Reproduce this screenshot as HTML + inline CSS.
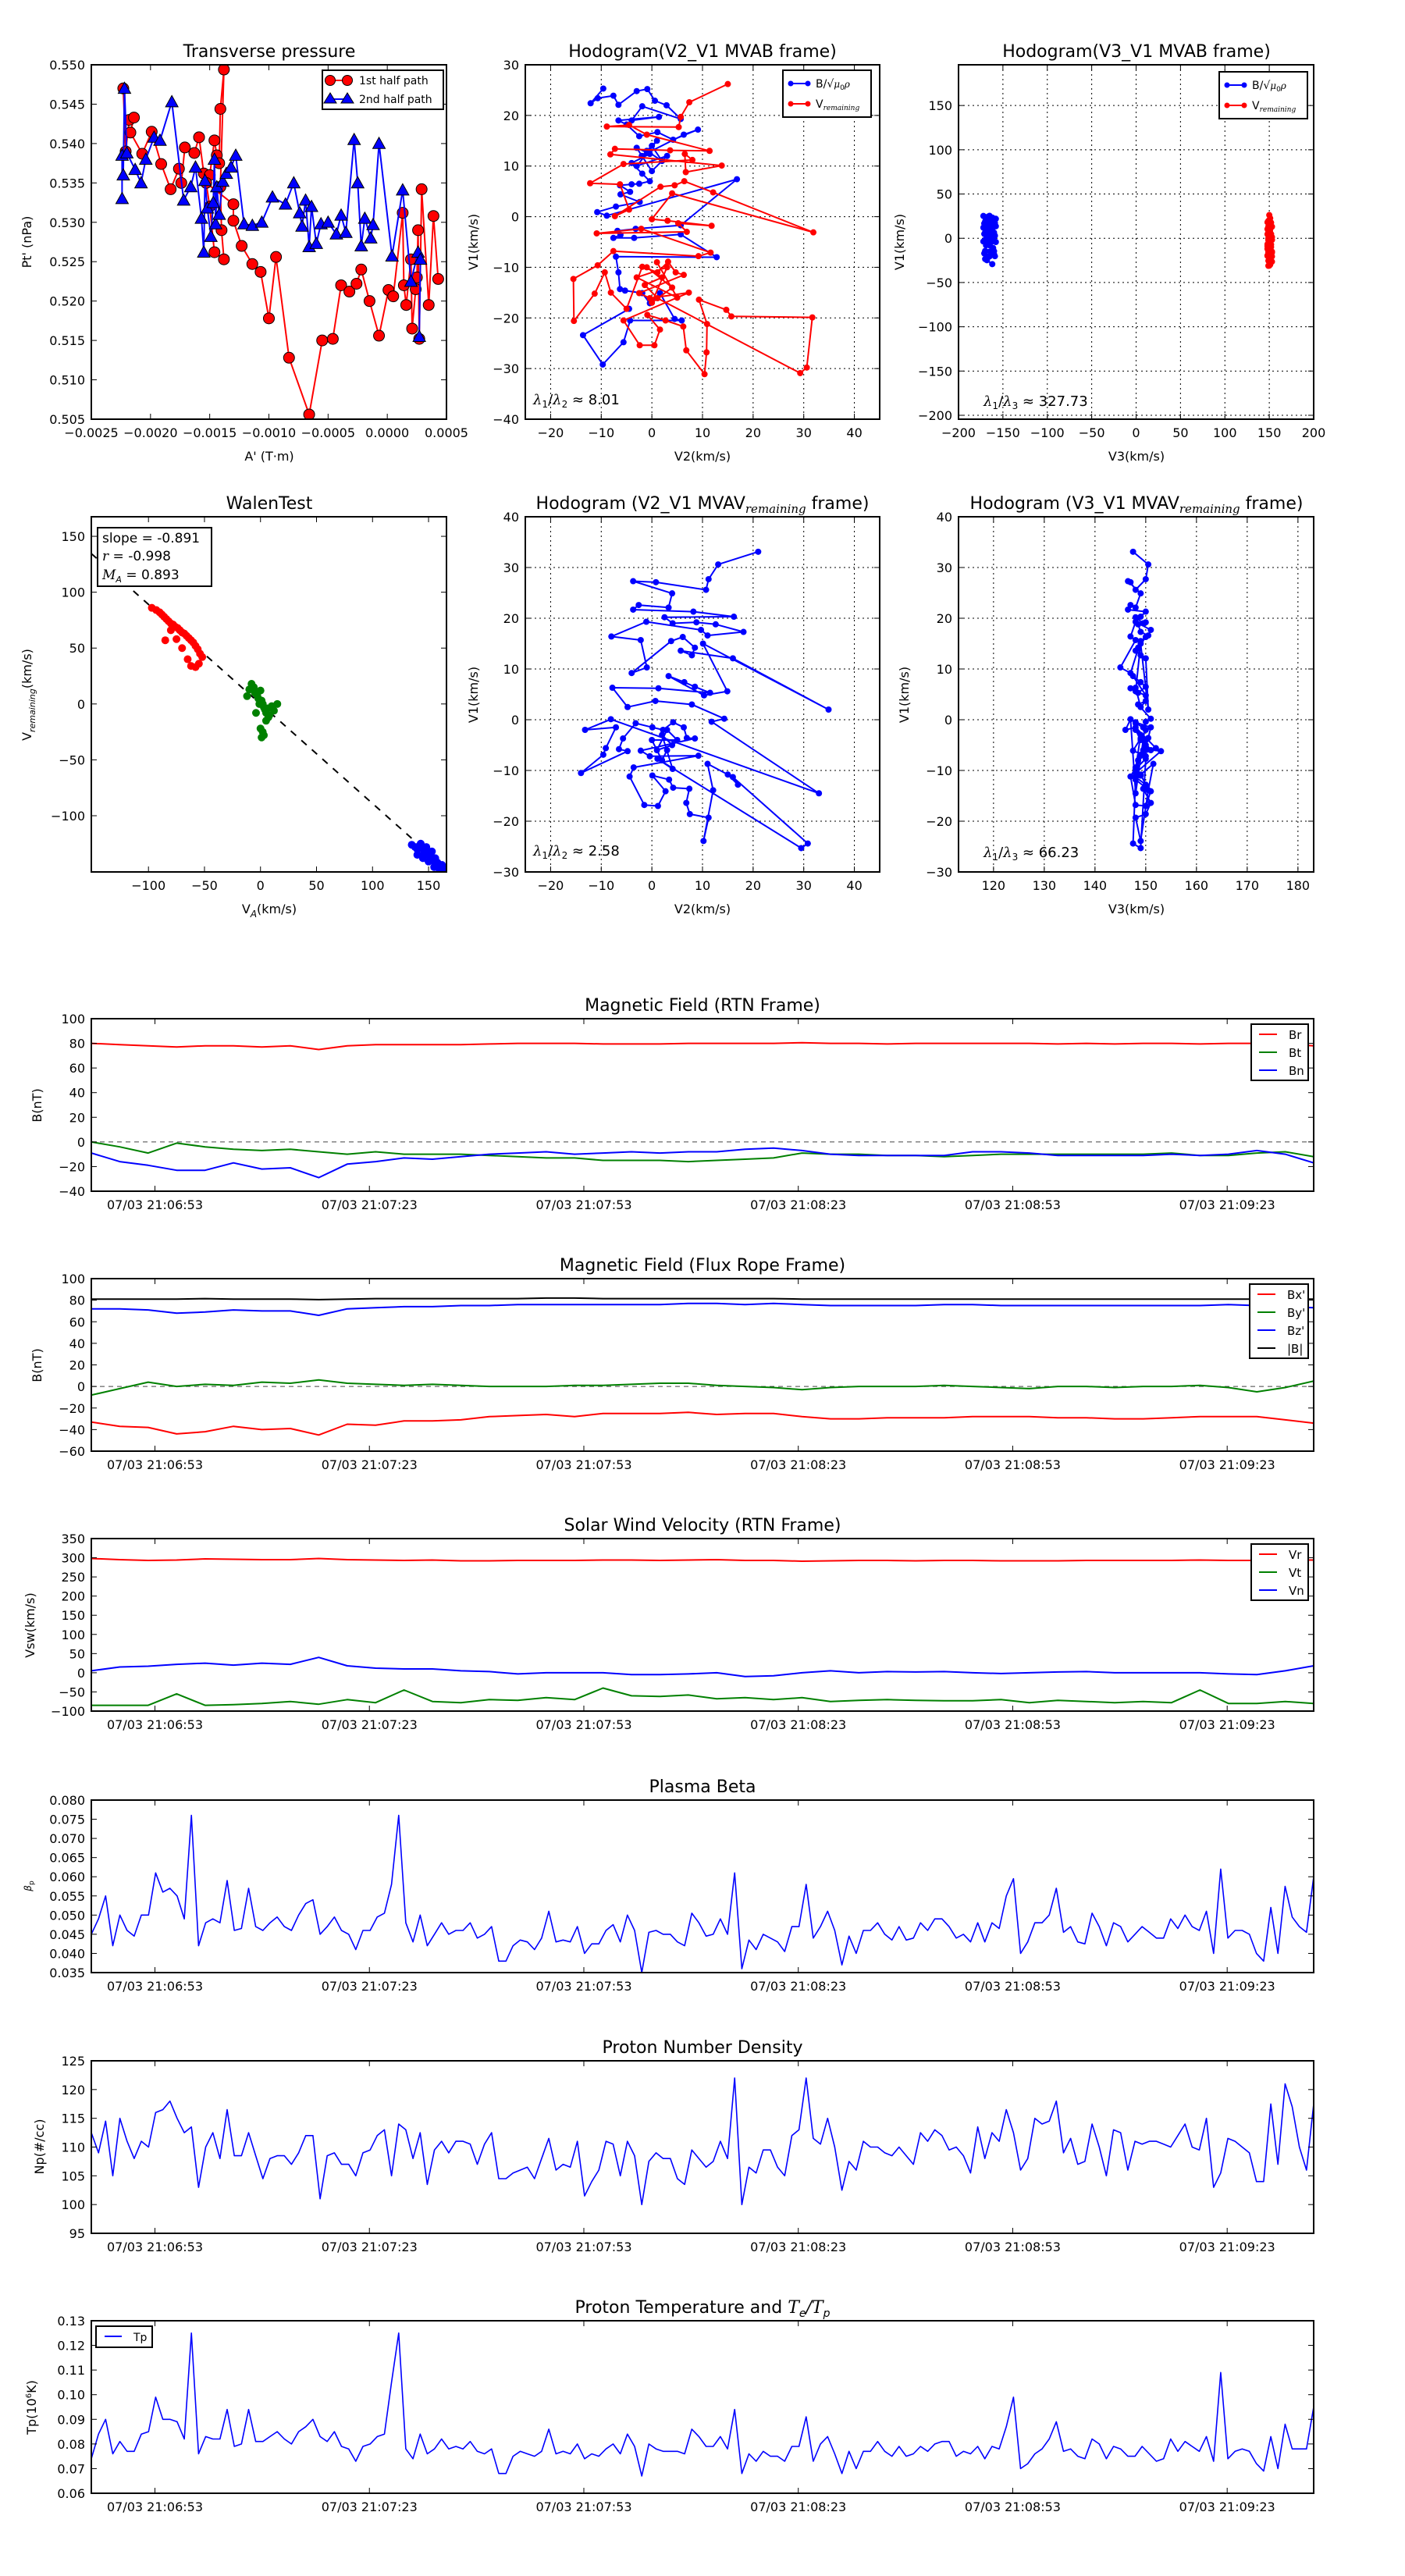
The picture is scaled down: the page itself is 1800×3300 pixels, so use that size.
<!DOCTYPE html>
<html><head><meta charset="utf-8"><title>Flux rope analysis</title>
<style>
html,body{margin:0;padding:0;background:#fff;}
svg{display:block;font-family:"DejaVu Sans","Liberation Sans",sans-serif;}
.t{font-size:22px;fill:#000;text-anchor:middle;}
.al{font-size:16px;fill:#000;text-anchor:middle;}
.lg{font-size:14px;fill:#000;}
</style></head>
<body>
<svg id="chart" width="1800" height="3300" viewBox="0 0 1800 3300" xmlns="http://www.w3.org/2000/svg">
<rect x="0" y="0" width="1800" height="3300" fill="#fff"/>
<text class="t" x="345" y="73">Transverse pressure</text>
<text class="t" x="900" y="73">Hodogram(V2_V1 MVAB frame)</text>
<text class="t" x="1456" y="73">Hodogram(V3_V1 MVAB frame)</text>
<text class="t" x="345" y="652">WalenTest</text>
<text class="t" x="900" y="652">Hodogram (V2_V1 MVAV<tspan font-style="italic" font-family="DejaVu Serif" font-size="15" dy="5">remaining</tspan><tspan dy="-5"> frame)</tspan></text>
<text class="t" x="1456" y="652">Hodogram (V3_V1 MVAV<tspan font-style="italic" font-family="DejaVu Serif" font-size="15" dy="5">remaining</tspan><tspan dy="-5"> frame)</tspan></text>
<text class="t" x="900" y="1295">Magnetic Field (RTN Frame)</text>
<text class="t" x="900" y="1628">Magnetic Field (Flux Rope Frame)</text>
<text class="t" x="900" y="1961">Solar Wind Velocity (RTN Frame)</text>
<text class="t" x="900" y="2296">Plasma Beta</text>
<text class="t" x="900" y="2630">Proton Number Density</text>
<text class="t" x="900" y="2963">Proton Temperature and <tspan font-style="italic" font-family="DejaVu Serif">T</tspan><tspan font-style="italic" font-size="14" dy="5">e</tspan><tspan dy="-5" font-style="italic" font-family="DejaVu Serif">/T</tspan><tspan font-style="italic" font-size="14" dy="5">p</tspan></text>
<text class="al" x="345" y="590">A' (T·m)</text>
<text class="al" x="900" y="590">V2(km/s)</text>
<text class="al" x="1456" y="590">V3(km/s)</text>
<text class="al" x="345" y="1170">V<tspan font-style="italic" font-size="12" dy="5">A</tspan><tspan dy="-5">(km/s)</tspan></text>
<text class="al" x="900" y="1170">V2(km/s)</text>
<text class="al" x="1456" y="1170">V3(km/s)</text>
<text class="al" transform="translate(40,310) rotate(-90)">Pt' (nPa)</text>
<text class="al" transform="translate(612,310) rotate(-90)">V1(km/s)</text>
<text class="al" transform="translate(1158,310) rotate(-90)">V1(km/s)</text>
<text class="al" transform="translate(40,890) rotate(-90)">V<tspan font-style="italic" font-size="11" dy="5">remaining</tspan><tspan dy="-5">(km/s)</tspan></text>
<text class="al" transform="translate(612,890) rotate(-90)">V1(km/s)</text>
<text class="al" transform="translate(1164,890) rotate(-90)">V1(km/s)</text>
<text class="al" transform="translate(53,1416) rotate(-90)">B(nT)</text>
<text class="al" transform="translate(53,1749) rotate(-90)">B(nT)</text>
<text class="al" transform="translate(44,2082) rotate(-90)">Vsw(km/s)</text>
<text class="al" transform="translate(40,2416) rotate(-90)" style="font-size:12px"><tspan font-style="italic">β</tspan><tspan font-size="9" dy="3">p</tspan></text>
<text class="al" transform="translate(56,2750) rotate(-90)">Np(#/cc)</text>
<text class="al" transform="translate(46,3084) rotate(-90)">Tp(10<tspan font-size="10" dy="-6">6</tspan><tspan dy="6">K)</tspan></text>
</svg>
<script>
const redA = [-2.23,-2.21,-2.18,-2.14,-2.17,-2.07,-1.99,-1.91,-1.83,-1.76,-1.74,-1.71,-1.63,-1.59,-1.55,-1.50,-1.46,-1.44,-1.42,-1.41,-1.38,-1.41,-1.40,-1.38,-1.46,-1.50,-1.53,-1.30,-1.30,-1.23,-1.14,-1.07,-1.00,-0.94,-0.83,-0.66,-0.55,-0.46,-0.39,-0.32,-0.26,-0.22,-0.15,-0.07,0.01,0.05,0.13,0.14,0.16,0.20,0.21,0.24,0.25,0.26,0.27,0.29,0.35,0.39,0.43];
const redP = [.547,.539,.543,.5433,.5414,.5387,.5415,.5374,.5342,.5368,.5350,.5395,.5388,.5408,.5362,.5360,.5404,.5385,.5375,.5444,.5494,.5345,.5290,.5253,.5262,.5320,.5350,.5323,.5302,.5270,.5247,.5237,.5178,.5256,.5128,.5056,.5150,.5152,.5220,.5212,.5222,.5240,.5200,.5156,.5214,.5206,.5312,.5220,.5195,.5253,.5165,.5215,.5230,.5290,.5152,.5342,.5195,.5308,.5228];
const blueA = [-2.24,-2.24,-2.23,-2.22,-2.20,-2.13,-2.08,-2.04,-1.97,-1.92,-1.82,-1.72,-1.66,-1.62,-1.57,-1.55,-1.54,-1.52,-1.49,-1.47,-1.46,-1.45,-1.44,-1.42,-1.39,-1.36,-1.32,-1.28,-1.21,-1.14,-1.06,-0.97,-0.86,-0.79,-0.74,-0.72,-0.69,-0.66,-0.64,-0.60,-0.56,-0.50,-0.43,-0.39,-0.35,-0.28,-0.25,-0.22,-0.19,-0.14,-0.12,-0.07,0.04,0.13,0.20,0.26,0.28,0.27];
const blueP = [.5330,.5385,.5360,.5470,.5388,.5367,.5350,.5380,.5408,.5404,.5453,.5328,.5345,.5370,.5305,.5262,.5353,.5318,.5282,.5325,.5380,.5298,.5345,.5310,.5352,.5362,.5370,.5385,.5298,.5296,.5300,.5332,.5323,.5350,.5312,.5295,.5328,.5269,.5320,.5273,.5298,.5300,.5285,.5309,.5287,.5405,.5350,.5270,.5305,.5280,.5297,.5400,.5257,.5341,.5225,.5262,.5253,.5155];

const b1V2 = [-9.6,-12.1,-10.7,-7.6,-6.6,-3,-0.9,0.6,2.9,5.7,-1.9,-4,1.4,-6.6,-5,-2.5,1.1,4.2,9.1,6.3,-2,0,2,-1,1,-3,3,0,-3,-0.4,-4,-1.9,-0.4,-2.5,-4,-6.3,-4.3,-6.2,-2.4,-7.1,-10.8,-8.9,16.8,5.7,-3.2,-6.8,-6.2,-7.6,-3.5,5.7,12.8,-7.1,-6.6,-6.3,-5.3,-1.9,-0.4,1.6,4.5,5.9,-4.3,-5.6,-9.7,-13.6,-4.5];
const b1V1 = [25.3,22.4,23.4,23.9,22.1,24.8,25.2,22.9,22,19.3,21.8,19,19.7,19,18.2,15.9,16.7,15.2,17.2,16.2,12,14,11,13,15,10,12,9,13.6,12.4,10.6,8.5,7,6.5,6.4,6.2,4.9,4.4,2.9,2,0.9,0.2,7.4,-1.7,-2.4,-2.8,-3.6,-4.2,-4.2,-3.5,-8,-7.9,-11,-14.3,-14.6,-15.1,-17.1,-15.1,-20.2,-20.5,-20.5,-24.8,-29.2,-23.4,-18.2];
const b1V3 = [-165,-168,-162,-170,-160,-166,-172,-163,-158,-167,-165,-169,-161,-170,-160,-164,-171,-163,-159,-166,-165,-168,-162,-170,-160,-166,-172,-163,-158,-167,-165,-169,-161,-170,-160,-164,-171,-163,-159,-166,-165,-168,-162,-170,-160,-166,-172,-163,-158,-167,-165,-169,-161,-170,-160,-164,-171,-163,-159,-166,-165,-168,-162,-170,-160];
const r1V2 = [15,7.4,5.7,5.3,-8.9,-4.5,-1,11.4,3.6,-7.3,-8.2,13.8,6.7,6.5,8,-5.6,-12.2,-6.3,-4.5,-7.3,1.7,4.5,6.4,12.1,31.9,4,0,3.1,11.8,5.2,6.9,-10.9,-2.1,11.6,9.2,-7.6,-10.7,-15.5,-15.4,-11.3,-9.3,-8.1,-5,-1.9,1.1,3.2,4.7,6.3,-2.5,-0.4,7.3,-5.6,-2.4,0.5,1.6,-0.9,2.7,6.2,6.8,10.4,10.8,10.9,9.3,14.7,15.7,31.7,30.6,29.3,1.1,-1.4,2,-1,4,0,3,-3,5,1];
const r1V1 = [26.2,22.6,19.7,17.7,17.8,18.1,16.2,13,13.1,13.4,12.3,10.1,8.8,12.4,11.2,10.4,6.6,6.4,1.4,0.1,5.9,6.2,7,4.8,-3.1,4.6,-0.5,-0.8,-1.8,-1.3,-3,-3.3,-2.4,-7.1,-7.8,-6.8,-9.6,-12.3,-20.6,-15.2,-11,-15,-18.2,-9.9,-11,-8.9,-11,-11.5,-15.1,-16.1,-15,-20.5,-25.4,-25.4,-22.3,-19.4,-20.5,-21.7,-26.4,-31.1,-26.8,-21.2,-16.4,-18.4,-19.7,-19.9,-29.8,-30.9,-16.1,-13.5,-12,-10,-14,-17,-10,-12,-16,-9];
const r1V3 = [150,151,149,152,150,148,151,150,153,149,150,151,149,152,150,148,151,150,153,149,150,151,149,152,150,148,151,150,153,149,150,151,149,152,150,148,151,150,153,149,150,151,149,152,150,148,151,150,153,149,150,151,149,152,150,148,151,150,153,149,150,151,149,152,150,148,151,150,153,149,150,151,149,152,150,148,151,150];

const walenRedVA = [-97,-93,-90,-88,-86,-84,-82,-80,-78,-76,-74,-72,-70,-68,-66,-64,-62,-60,-58,-56,-54,-52,-85,-75,-65,-58,-55,-62,-70,-80];
const walenRedV = [86,84,82,80,78,76,74,72,71,69,68,66,64,63,61,59,57,55,52,49,45,42,57,58,40,33,36,34,50,66];
const walenGreenVA = [-10,-8,-6,-5,-3,-2,0,1,2,3,4,5,6,8,10,12,15,-12,-4,0,2,1,3,-1,5,7];
const walenGreenV = [13,18,15,10,8,5,12,3,0,-3,-5,-8,-4,-10,-2,-6,0,7,-8,-22,-25,-30,-28,0,-15,-12];
const walenBlueVA = [135,138,140,142,144,146,148,150,152,154,156,158,160,162,164,166,140,145,150,155,160,165,143,148,153];
const walenBlueV = [-126,-128,-130,-127,-129,-133,-131,-135,-137,-140,-138,-142,-145,-144,-147,-150,-135,-138,-141,-146,-149,-150,-125,-128,-132];
const walenSlope = -0.891;

const m2V2 = [21,13.1,11.2,10.7,0.8,-3.7,4,3.3,-2.6,-3.7,8.2,16.2,2.5,4.1,8.8,12.6,18.1,11,9.7,-1.1,-8,-2.2,-1,-4,3.8,6.1,8.5,7.9,5.7,16,34.9,10.1,14.9,10.3,3.3,6.4,8.5,11.5,1.3,-7.8,-4.8,0.7,7.9,14.3,11.8,33,-8.1,-13.2,-7.1,-9.1,-9.6,-14,-4.8,-6.5,-5.7,-3.2,0.1,2.2,4.2,6.3,6.9,8.5,-2.2,-0.4,9.2,-3.6,-4.4,-1.5,1.2,2.7,0.1,3.4,4.2,7.4,6.8,7.5,11.2,10.2,12.1,11,15,17,16,30.8,29.5,1.1,4.1,2,4,1,3,5,0,2,3];
const m2V1 = [33.1,30.6,27.7,25.6,27.1,27.3,24.9,22.1,22.6,21.7,21.3,20.3,20.2,19,19.2,18.8,17.3,16.6,17.7,19.3,16.4,15.7,10.3,9.2,15.5,16.3,14.2,12.7,13.6,12.1,2,15,5.6,4.8,8.6,7.4,6.5,5.3,6.2,6.3,2.5,3.7,3.0,0.2,-0.4,-14.5,0.1,-2,-1.5,-5.6,-6.9,-10.5,-6.2,-5.8,-3.7,-0.7,-1.5,-2,-0.5,-1.5,-3.6,-3.7,-6.1,-7.2,-7.1,-9.4,-11.2,-16.8,-17,-14.1,-11,-11.8,-13.4,-13.6,-16.4,-18.6,-19.3,-23.9,-13.9,-8.7,-10.8,-12.8,-11.3,-24.4,-25.3,-7.7,-9.7,-3,-5,-6,-2,-4,-4,-8,-6];
const m2V3 = [147.5,150.5,150,148,147,146.5,149,148,147,146.5,150,149,148,149.5,150,148.5,149,150.5,151,148,147,148,145,147,149,150,148.5,149,148,150,150.5,149,148,150,147.5,149,150,148.5,147,148,149,150,148.5,151,150,148,147,146,148,152,149,148,153,150,149,148,149.5,150,148,151,150.5,149,147.5,150,149,148,147,148,150,151,149,148,150,149.5,151,150,148,149,150.5,151.5,149,150,148,147.5,149,150,148,149,150,151,148,149,150,148.5,149.5];

const timeTickSec = [8.9,38.9,68.9,98.9,128.9,158.9];
const timeTickLabels = ["07/03 21:06:53","07/03 21:07:23","07/03 21:07:53","07/03 21:08:23","07/03 21:08:53","07/03 21:09:23"];
const brR = [80,79,78,77,78,78,77,78,75,78,79,79,79,79,79.5,80,80,80,79.5,79.5,79.5,80,80,80,80,80.5,80,80,79.5,80,80,80,80,80,79.5,80,79.5,80,80,79.5,80,80,79.5,78];
const btR = [0,-4,-9,-1,-4,-6,-7,-6,-8,-10,-8,-10,-10,-10,-11,-12,-13,-13,-15,-15,-15,-16,-15,-14,-13,-9,-10,-10,-11,-11,-12,-11,-10,-10,-10,-10,-10,-10,-9,-11,-11,-9,-8,-12];
const bnR = [-9,-16,-19,-23,-23,-17,-22,-21,-29,-18,-16,-13,-14,-12,-10,-9,-8,-10,-9,-8,-9,-8,-8,-6,-5,-7,-10,-11,-11,-11,-11,-8,-8,-9,-11,-11,-11,-11,-10,-11,-10,-7,-10,-17];
const bxF = [-33,-37,-38,-44,-42,-37,-40,-39,-45,-35,-36,-32,-32,-31,-28,-27,-26,-28,-25,-25,-25,-24,-26,-25,-25,-28,-30,-30,-29,-29,-29,-28,-28,-28,-29,-29,-30,-30,-29,-28,-28,-28,-31,-34];
const byF = [-8,-2,4,0,2,1,4,3,6,3,2,1,2,1,0,0,0,1,1,2,3,3,1,0,-1,-3,-1,0,0,0,1,0,-1,-2,0,0,-1,0,0,1,-1,-5,-1,5];
const bzF = [72,72,71,68,69,71,70,70,66,72,73,74,74,75,75,76,76,76,76,76,76,77,77,76,77,76,75,75,75,75,76,76,75,75,75,75,75,75,75,75,76,75,74,73];
const bmF = [81,81,81,81,81.5,81,81,81,80.5,81,81.5,81.5,81.5,81.5,81.5,81.5,82,82,81.5,81.5,81.5,81.5,81.5,81.5,81.5,81,81,81,81,81,81,81,81,81,81,81,81,81,81,81,81,81,81,81];
const vrR = [298,295,293,294,297,296,295,295,298,295,294,293,294,292,292,293,293,293,294,294,293,294,295,293,293,291,292,293,293,292,293,293,292,292,292,293,293,293,293,294,293,293,294,294];
const vtR = [-85,-85,-85,-55,-85,-83,-80,-75,-82,-70,-78,-45,-75,-78,-70,-72,-65,-70,-40,-60,-62,-58,-68,-65,-70,-65,-75,-72,-70,-72,-73,-73,-70,-78,-72,-75,-78,-75,-78,-45,-80,-80,-75,-80];
const vnR = [5,15,17,22,25,20,25,22,40,18,12,10,10,5,3,-3,0,0,0,-5,-5,-3,0,-10,-8,0,5,0,3,2,3,0,-2,0,2,3,0,0,0,0,-3,-5,5,18];
const beta = [0.045,0.049,0.055,0.042,0.050,0.046,0.0445,0.050,0.050,0.061,0.056,0.057,0.055,0.049,0.076,0.042,0.048,0.049,0.048,0.059,0.046,0.0465,0.057,0.047,0.046,0.048,0.0495,0.047,0.046,0.050,0.053,0.054,0.045,0.047,0.0495,0.046,0.045,0.041,0.046,0.046,0.0495,0.0505,0.058,0.076,0.048,0.043,0.050,0.042,0.045,0.048,0.045,0.046,0.046,0.048,0.044,0.045,0.047,0.038,0.038,0.042,0.0435,0.043,0.041,0.044,0.051,0.043,0.0435,0.043,0.047,0.040,0.0425,0.0425,0.046,0.0475,0.043,0.050,0.046,0.035,0.0455,0.046,0.045,0.045,0.043,0.042,0.0505,0.048,0.0445,0.045,0.049,0.045,0.061,0.036,0.0435,0.041,0.045,0.044,0.043,0.0405,0.047,0.047,0.058,0.044,0.047,0.051,0.046,0.037,0.0445,0.040,0.046,0.046,0.048,0.045,0.0435,0.047,0.0435,0.044,0.048,0.046,0.049,0.049,0.047,0.044,0.045,0.043,0.048,0.043,0.048,0.0465,0.055,0.0595,0.040,0.043,0.048,0.048,0.050,0.057,0.0455,0.047,0.043,0.0425,0.0505,0.047,0.042,0.048,0.047,0.043,0.045,0.047,0.0455,0.044,0.044,0.049,0.0465,0.050,0.047,0.046,0.051,0.040,0.062,0.044,0.046,0.046,0.045,0.040,0.038,0.052,0.040,0.0575,0.0495,0.047,0.0455,0.060];
const npDen = [112.5,109,114.5,105,115,111,108,111,110,116,116.5,118,115,112.5,113.5,103,110,112.5,108,116.5,108.5,108.5,112.5,108.5,104.5,108,108.5,108.5,107,109,112,112,101,108.5,109,107,107,105,109,109.5,112,113,105,114,113,108,112.5,103.5,109.5,111,109,111,111,110.5,107,110.5,112.5,104.5,104.5,105.5,106,106.5,104.5,108,111.5,106,107,106.5,111,101.5,104,106,111,110.5,105,111,108.5,100,107.5,109,108,108,104.5,103.5,109.5,108,106.5,107.5,111,108,122,100,106.5,105.5,109.5,109.5,106.5,105,112,113,122,111.5,110.5,115,110,102.5,107.5,106,111,110,110,109,108.5,110,108.5,107,112.5,111,113,112,109.5,110,108.5,105.5,113.5,108,112.5,111,116.5,112.5,106,108,115,114,114.5,118,109,111.5,107,107.5,114,110,105,113,112.5,106,111,110.5,111,111,110.5,110,112,114,110,109.5,115,103,105.5,111.5,111,110,109,104,104,117.5,107,121,117,110,106,117.5];
const tpTemp = [0.074,0.084,0.090,0.076,0.081,0.077,0.077,0.084,0.085,0.099,0.090,0.090,0.089,0.082,0.125,0.076,0.083,0.082,0.082,0.094,0.079,0.080,0.094,0.081,0.081,0.083,0.085,0.082,0.080,0.085,0.087,0.090,0.083,0.081,0.085,0.079,0.078,0.073,0.079,0.080,0.083,0.084,0.105,0.125,0.078,0.074,0.084,0.076,0.078,0.082,0.078,0.079,0.078,0.081,0.077,0.076,0.078,0.068,0.068,0.075,0.077,0.076,0.075,0.077,0.086,0.076,0.077,0.076,0.080,0.074,0.076,0.075,0.078,0.080,0.076,0.084,0.079,0.067,0.080,0.078,0.077,0.077,0.077,0.076,0.086,0.083,0.079,0.079,0.083,0.078,0.094,0.068,0.076,0.073,0.077,0.075,0.075,0.073,0.079,0.079,0.091,0.073,0.080,0.083,0.076,0.068,0.077,0.070,0.077,0.077,0.081,0.077,0.075,0.079,0.075,0.076,0.079,0.077,0.080,0.081,0.081,0.075,0.077,0.076,0.079,0.074,0.079,0.078,0.087,0.099,0.070,0.072,0.076,0.078,0.082,0.089,0.077,0.078,0.075,0.074,0.082,0.080,0.074,0.079,0.078,0.075,0.075,0.079,0.076,0.073,0.074,0.082,0.077,0.081,0.079,0.077,0.083,0.073,0.109,0.074,0.077,0.078,0.077,0.072,0.069,0.083,0.070,0.088,0.078,0.078,0.078,0.095];

const NS = "http://www.w3.org/2000/svg";
const root = document.getElementById('chart');
function mk(tag, attrs, parent, name) {
  const e = document.createElementNS(NS, tag);
  for (const k in attrs) e.setAttribute(k, attrs[k]);
  
  
  parent.appendChild(e);
  return e;
}
let clipN = 0;
function axes(o) {
  const g = mk('g', {}, root, o.name);
  const sx = v => o.x + (v - o.xmin) / (o.xmax - o.xmin) * o.w;
  const sy = v => o.y + o.h - (v - o.ymin) / (o.ymax - o.ymin) * o.h;
  const id = 'clip' + (clipN++);
  const cp = mk('clipPath', {id: id}, g, 'clip-region');
  mk('rect', {x: o.x, y: o.y, width: o.w, height: o.h}, cp, 'clip-rect');
  if (o.grid) {
    const gg = mk('g', {stroke: '#000', 'stroke-width': 1, 'stroke-dasharray': '2,4'}, g, 'grid');
    o.xt.forEach(v => { const X = sx(v); mk('line', {x1: X, x2: X, y1: o.y, y2: o.y + o.h}, gg, 'grid-line-x'); });
    o.yt.forEach(v => { const Y = sy(v); mk('line', {x1: o.x, x2: o.x + o.w, y1: Y, y2: Y}, gg, 'grid-line-y'); });
  }
  const data = mk('g', {'clip-path': 'url(#' + id + ')'}, g, 'plot-area');
  const fr = mk('g', {}, g, 'axes-decor');
  mk('rect', {x: o.x, y: o.y, width: o.w, height: o.h, fill: 'none', stroke: '#000', 'stroke-width': 2}, fr, 'axes-border');
  const tk = mk('g', {stroke: '#000', 'stroke-width': 1}, fr, 'ticks');
  const lb = mk('g', {'font-size': 16, fill: '#000'}, fr, 'tick-labels');
  o.xt.forEach((v, i) => {
    const X = sx(v);
    mk('line', {x1: X, x2: X, y1: o.y + o.h, y2: o.y + o.h - 7}, tk, 'x-tick');
    mk('line', {x1: X, x2: X, y1: o.y, y2: o.y + 7}, tk, 'x-tick-top');
    const t = mk('text', {x: X, y: o.y + o.h + 23, 'text-anchor': 'middle'}, lb, 'x-tick-label');
    t.textContent = o.xl[i];
  });
  o.yt.forEach((v, i) => {
    const Y = sy(v);
    mk('line', {x1: o.x, x2: o.x + 7, y1: Y, y2: Y}, tk, 'y-tick');
    mk('line', {x1: o.x + o.w, x2: o.x + o.w - 7, y1: Y, y2: Y}, tk, 'y-tick-right');
    const t = mk('text', {x: o.x - 8, y: Y + 6, 'text-anchor': 'end'}, lb, 'y-tick-label');
    t.textContent = o.yl[i];
  });
  return {sx: sx, sy: sy, data: data, g: g, o: o};
}
function pts(ax, xs, ys) { return xs.map((v, i) => ax.sx(v).toFixed(1) + ',' + ax.sy(ys[i]).toFixed(1)).join(' '); }
function line(ax, xs, ys, color, w, name) {
  return mk('polyline', {points: pts(ax, xs, ys), fill: 'none', stroke: color, 'stroke-width': w, 'stroke-linejoin': 'round'}, ax.data, name);
}
function dots(ax, xs, ys, color, r, edge, name) {
  const g = mk('g', {fill: color, stroke: edge || 'none', 'stroke-width': edge ? 1 : 0}, ax.data, name);
  xs.forEach((v, i) => { mk('circle', {cx: ax.sx(v), cy: ax.sy(ys[i]), r: r}, g, 'point'); });
  return g;
}
function tris(ax, xs, ys, color, s, name) {
  const g = mk('g', {fill: color, stroke: '#000', 'stroke-width': 1}, ax.data, name);
  xs.forEach((v, i) => {
    const X = ax.sx(v), Y = ax.sy(ys[i]);
    mk('polygon', {points: X + ',' + (Y - s) + ' ' + (X - s) + ',' + (Y + s * 0.8) + ' ' + (X + s) + ',' + (Y + s * 0.8)}, g, 'triangle-marker');
  });
}
const mn = v => (v < 0 ? '\u2212' + String(-v) : String(v));
function range(a, b, s) { const r = []; for (let v = a; v <= b + 1e-9; v += s) r.push(Math.round(v * 1e6) / 1e6); return r; }
function legend(x, y, w, h, name) {
  const g = mk('g', {}, root, name);
  mk('rect', {x: x, y: y, width: w, height: h, fill: '#fff', stroke: '#000', 'stroke-width': 2}, g, 'legend-box');
  return g;
}
function note(x, y, a, b, val, name) {
  const t = mk('text', {x: x, y: y, 'font-size': 18, fill: '#000'}, root, name);
  t.innerHTML = '<tspan font-style="italic" font-family="DejaVu Serif">λ</tspan><tspan font-size="12" dy="4">' + a + '</tspan><tspan dy="-4">/</tspan><tspan font-style="italic" font-family="DejaVu Serif">λ</tspan><tspan font-size="12" dy="4">' + b + '</tspan><tspan dy="-4"> ≈ ' + val + '</tspan>';
}

const R1 = {y: 83, h: 454}, R2 = {y: 662, h: 455};
const C = [{x: 117, w: 455}, {x: 673, w: 454}, {x: 1228, w: 455}];

const tpX = range(-2.5, 0.5, 0.5), tpY = range(0.505, 0.550, 0.005);
const axP = axes({name: 'transverse-pressure-axes', x: C[0].x, y: R1.y, w: C[0].w, h: R1.h, xmin: -2.5, xmax: 0.5, ymin: 0.505, ymax: 0.550,
  xt: tpX, xl: tpX.map(v => (v < 0 ? '\u2212' : '') + Math.abs(v / 1000).toFixed(4)), yt: tpY, yl: tpY.map(v => v.toFixed(3))});
line(axP, redA, redP, '#ff0000', 2, 'first-half-path-line');
dots(axP, redA, redP, '#ff0000', 7, '#000', 'first-half-path-markers');
line(axP, blueA, blueP, '#0000ff', 2, 'second-half-path-line');
tris(axP, blueA, blueP, '#0000ff', 8, 'second-half-path-markers');
{
  const g = legend(413, 90, 155, 50, 'legend-transverse-pressure');
  mk('line', {x1: 423, x2: 445, y1: 103, y2: 103, stroke: '#ff0000', 'stroke-width': 2}, g, 'legend-line-first-half');
  mk('circle', {cx: 423, cy: 103, r: 6.5, fill: '#ff0000', stroke: '#000'}, g, 'legend-marker-first-half');
  mk('circle', {cx: 445, cy: 103, r: 6.5, fill: '#ff0000', stroke: '#000'}, g, 'legend-marker-first-half');
  const t1 = mk('text', {x: 460, y: 108, 'font-size': 14}, g, 'legend-label-first-half'); t1.textContent = '1st half path';
  mk('line', {x1: 423, x2: 445, y1: 127, y2: 127, stroke: '#0000ff', 'stroke-width': 2}, g, 'legend-line-second-half');
  mk('polygon', {points: '423,119 415,132 431,132', fill: '#0000ff', stroke: '#000'}, g, 'legend-marker-second-half');
  mk('polygon', {points: '445,119 437,132 453,132', fill: '#0000ff', stroke: '#000'}, g, 'legend-marker-second-half');
  const t2 = mk('text', {x: 460, y: 132, 'font-size': 14}, g, 'legend-label-second-half'); t2.textContent = '2nd half path';
}

function hodoLegend(x, y, name) {
  const g = legend(x, y, 113, 60, name);
  mk('line', {x1: x + 10, x2: x + 32, y1: y + 17, y2: y + 17, stroke: '#0000ff', 'stroke-width': 2}, g, 'legend-line-b');
  mk('circle', {cx: x + 10, cy: y + 17, r: 3.5, fill: '#0000ff'}, g, 'legend-marker-b');
  mk('circle', {cx: x + 32, cy: y + 17, r: 3.5, fill: '#0000ff'}, g, 'legend-marker-b');
  const a = mk('text', {x: x + 42, y: y + 22, 'font-size': 14}, g, 'legend-label-b');
  a.innerHTML = 'B/√<tspan font-style="italic" font-family="DejaVu Serif" font-size="12">μ</tspan><tspan font-size="9" dy="3">0</tspan><tspan dy="-3" font-style="italic" font-family="DejaVu Serif" font-size="12">ρ</tspan>';
  mk('line', {x1: x + 10, x2: x + 32, y1: y + 43, y2: y + 43, stroke: '#ff0000', 'stroke-width': 2}, g, 'legend-line-v-remaining');
  mk('circle', {cx: x + 10, cy: y + 43, r: 3.5, fill: '#ff0000'}, g, 'legend-marker-v-remaining');
  mk('circle', {cx: x + 32, cy: y + 43, r: 3.5, fill: '#ff0000'}, g, 'legend-marker-v-remaining');
  const b = mk('text', {x: x + 42, y: y + 48, 'font-size': 14}, g, 'legend-label-v-remaining');
  b.innerHTML = 'V<tspan font-style="italic" font-family="DejaVu Serif" font-size="9" dy="3">remaining</tspan>';
}

const hX = range(-20, 40, 10), hY = range(-40, 30, 10);
const axH1 = axes({name: 'hodogram-v2-v1-mvab-axes', x: C[1].x, y: R1.y, w: C[1].w, h: R1.h, xmin: -25, xmax: 45, ymin: -40, ymax: 30, grid: true,
  xt: hX, xl: hX.map(mn), yt: hY, yl: hY.map(mn)});
line(axH1, b1V2, b1V1, '#0000ff', 2, 'b-mvab-line');
dots(axH1, b1V2, b1V1, '#0000ff', 4, null, 'b-mvab-points');
line(axH1, r1V2, r1V1, '#ff0000', 2, 'v-remaining-mvab-line');
dots(axH1, r1V2, r1V1, '#ff0000', 4, null, 'v-remaining-mvab-points');
hodoLegend(1003, 90, 'legend-hodogram-v2-v1-mvab');
note(683, 518, '1', '2', '8.01', 'eigenvalue-ratio-mvab-v2');

const h3X = range(-200, 200, 50), h3Y = range(-200, 150, 50);
const axH2 = axes({name: 'hodogram-v3-v1-mvab-axes', x: C[2].x, y: R1.y, w: C[2].w, h: R1.h, xmin: -200, xmax: 200, ymin: -204.4, ymax: 196, grid: true,
  xt: h3X, xl: h3X.map(mn), yt: h3Y, yl: h3Y.map(mn)});
line(axH2, b1V3, b1V1, '#0000ff', 2, 'b-mvab-v3-line');
dots(axH2, b1V3, b1V1, '#0000ff', 4, null, 'b-mvab-v3-points');
line(axH2, r1V3, r1V1, '#ff0000', 2, 'v-remaining-mvab-v3-line');
dots(axH2, r1V3, r1V1, '#ff0000', 4, null, 'v-remaining-mvab-v3-points');
hodoLegend(1562, 92, 'legend-hodogram-v3-v1-mvab');
note(1260, 520, '1', '3', '327.73', 'eigenvalue-ratio-mvab-v3');

const wX = range(-100, 150, 50), wY = range(-100, 150, 50);
const axW = axes({name: 'walen-test-axes', x: C[0].x, y: R2.y, w: C[0].w, h: R2.h, xmin: -151, xmax: 166, ymin: -150.3, ymax: 167.5,
  xt: wX, xl: wX.map(mn), yt: wY, yl: wY.map(mn)});
mk('line', {x1: axW.sx(-151), y1: axW.sy(walenSlope * -151), x2: axW.sx(166), y2: axW.sy(walenSlope * 166), stroke: '#000', 'stroke-width': 2, 'stroke-dasharray': '9,9'}, axW.data, 'walen-fit-line');
dots(axW, walenRedVA, walenRedV, '#ff0000', 5, null, 'walen-points-red');
dots(axW, walenGreenVA, walenGreenV, '#008000', 5, null, 'walen-points-green');
dots(axW, walenBlueVA, walenBlueV, '#0000ff', 5, null, 'walen-points-blue');
{
  const g = legend(125, 676, 146, 75, 'walen-stats-box');
  const t1 = mk('text', {x: 131, y: 695, 'font-size': 17}, g, 'walen-slope'); t1.textContent = 'slope = -0.891';
  const t2 = mk('text', {x: 131, y: 718, 'font-size': 17}, g, 'walen-correlation'); t2.innerHTML = '<tspan font-style="italic" font-family="DejaVu Serif">r</tspan> = -0.998';
  const t3 = mk('text', {x: 131, y: 742, 'font-size': 17}, g, 'walen-alfven-mach'); t3.innerHTML = '<tspan font-style="italic" font-family="DejaVu Serif">M</tspan><tspan font-size="11" font-style="italic" dy="4">A</tspan><tspan dy="-4"> = 0.893</tspan>';
}

const mX = range(-20, 40, 10), mY = range(-30, 40, 10);
const axM1 = axes({name: 'hodogram-v2-v1-mvav-axes', x: C[1].x, y: R2.y, w: C[1].w, h: R2.h, xmin: -25, xmax: 45, ymin: -30, ymax: 40, grid: true,
  xt: mX, xl: mX.map(mn), yt: mY, yl: mY.map(mn)});
line(axM1, m2V2, m2V1, '#0000ff', 2, 'v-mvav-line');
dots(axM1, m2V2, m2V1, '#0000ff', 4, null, 'v-mvav-points');
note(683, 1096, '1', '2', '2.58', 'eigenvalue-ratio-mvav-v2');

const m3X = range(120, 180, 10);
const axM2 = axes({name: 'hodogram-v3-v1-mvav-axes', x: C[2].x, y: R2.y, w: C[2].w, h: R2.h, xmin: 113.1, xmax: 183.1, ymin: -30, ymax: 40, grid: true,
  xt: m3X, xl: m3X.map(mn), yt: mY, yl: mY.map(mn)});
line(axM2, m2V3, m2V1, '#0000ff', 2, 'v-mvav-v3-line');
dots(axM2, m2V3, m2V1, '#0000ff', 4, null, 'v-mvav-v3-points');
note(1260, 1098, '1', '3', '66.23', 'eigenvalue-ratio-mvav-v3');

const TS = {x: 117, w: 1566, h: 221, tmax: 171};
function tAxis(arr) { return arr.map((v, i) => i * TS.tmax / (arr.length - 1)); }
function tsPanel(name, top, ymin, ymax, step, fmt) {
  const yt = range(ymin, ymax, step);
  return axes({name: name, x: TS.x, y: top, w: TS.w, h: TS.h, xmin: 0, xmax: TS.tmax, ymin: ymin, ymax: ymax,
    xt: timeTickSec, xl: timeTickLabels, yt: yt, yl: yt.map(fmt)});
}
function tsLegend(x, y, labels, colors, name) {
  const h = labels.length * 23 + 3;
  const g = legend(x, y, 1676 - x, h, name);
  labels.forEach((l, i) => {
    const Y = y + 13 + i * 23;
    mk('line', {x1: x + 10, x2: x + 33, y1: Y, y2: Y, stroke: colors[i], 'stroke-width': 2}, g, 'legend-line');
    const t = mk('text', {x: x + 48, y: Y + 6, 'font-size': 15}, g, 'legend-label'); t.textContent = l;
  });
}
const fmt0 = v => mn(v);
const axB = tsPanel('magnetic-field-rtn-axes', 1305, -40, 100, 20, fmt0);
mk('line', {x1: TS.x, x2: TS.x + TS.w, y1: axB.sy(0), y2: axB.sy(0), stroke: '#444', 'stroke-width': 1, 'stroke-dasharray': '6,5'}, axB.data, 'zero-line');
line(axB, tAxis(brR), brR, '#ff0000', 2, 'series-br');
line(axB, tAxis(btR), btR, '#008000', 2, 'series-bt');
line(axB, tAxis(bnR), bnR, '#0000ff', 2, 'series-bn');
tsLegend(1603, 1312, ['Br', 'Bt', 'Bn'], ['#ff0000', '#008000', '#0000ff'], 'legend-rtn');

const axF = tsPanel('magnetic-field-flux-rope-axes', 1638, -60, 100, 20, fmt0);
mk('line', {x1: TS.x, x2: TS.x + TS.w, y1: axF.sy(0), y2: axF.sy(0), stroke: '#444', 'stroke-width': 1, 'stroke-dasharray': '6,5'}, axF.data, 'zero-line');
line(axF, tAxis(bxF), bxF, '#ff0000', 2, 'series-bx');
line(axF, tAxis(byF), byF, '#008000', 2, 'series-by');
line(axF, tAxis(bzF), bzF, '#0000ff', 2, 'series-bz');
line(axF, tAxis(bmF), bmF, '#000000', 2, 'series-b-magnitude');
tsLegend(1601, 1645, ["Bx'", "By'", "Bz'", '|B|'], ['#ff0000', '#008000', '#0000ff', '#000000'], 'legend-flux-rope');

const axV = tsPanel('solar-wind-velocity-axes', 1971, -100, 350, 50, fmt0);
line(axV, tAxis(vrR), vrR, '#ff0000', 2, 'series-vr');
line(axV, tAxis(vtR), vtR, '#008000', 2, 'series-vt');
line(axV, tAxis(vnR), vnR, '#0000ff', 2, 'series-vn');
tsLegend(1603, 1978, ['Vr', 'Vt', 'Vn'], ['#ff0000', '#008000', '#0000ff'], 'legend-velocity');

const axBeta = tsPanel('plasma-beta-axes', 2306, 0.035, 0.080, 0.005, v => v.toFixed(3));
line(axBeta, tAxis(beta), beta, '#0000ff', 1.6, 'series-beta');

const axNp = tsPanel('proton-density-axes', 2640, 95, 125, 5, fmt0);
line(axNp, tAxis(npDen), npDen, '#0000ff', 1.6, 'series-np');

const axTp = tsPanel('proton-temperature-axes', 2973, 0.06, 0.13, 0.01, v => v.toFixed(2));
line(axTp, tAxis(tpTemp), tpTemp, '#0000ff', 1.6, 'series-tp');
{
  const g = legend(123, 2980, 72, 27, 'legend-tp');
  mk('line', {x1: 134, x2: 156, y1: 2993, y2: 2993, stroke: '#0000ff', 'stroke-width': 2}, g, 'legend-line-tp');
  const t = mk('text', {x: 171, y: 2999, 'font-size': 14}, g, 'legend-label-tp'); t.textContent = 'Tp';
}
</script>
</body></html>
